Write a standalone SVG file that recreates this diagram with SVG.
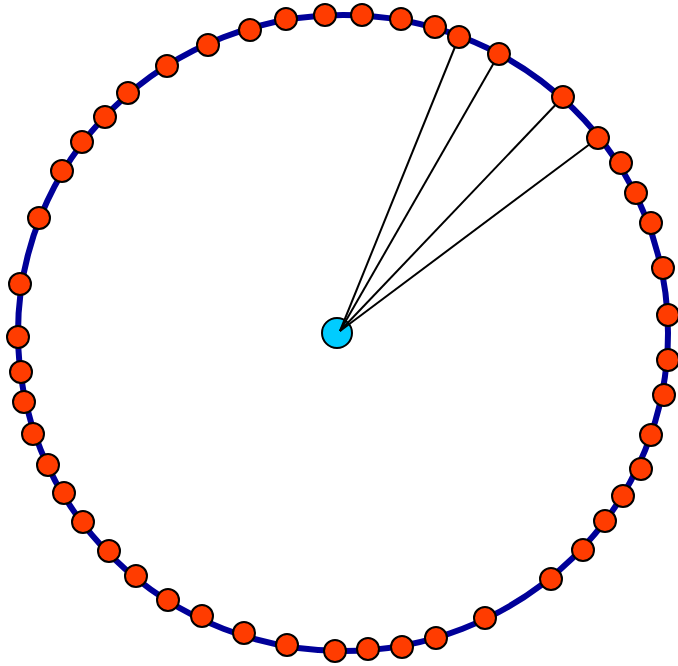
<svg xmlns="http://www.w3.org/2000/svg" width="678" height="666" viewBox="0 0 678 666">
<style>
.ring{fill:none;stroke:#000099;stroke-width:6}
.edge{stroke:#000;stroke-width:2;fill:none}
.n{fill:#ff3c00;stroke:#000;stroke-width:2}
.c{fill:#00ccff;stroke:#000;stroke-width:2}
</style>
<rect width="678" height="666" fill="#fff"/>
<ellipse class="ring" cx="343" cy="333" rx="325" ry="318"/>
<g id="hub"><circle class="c" cx="337" cy="333" r="15"/></g>
<g id="connectors">
<line class="edge" x1="340" y1="331" x2="459" y2="37"/>
<line class="edge" x1="340" y1="331" x2="499" y2="54"/>
<line class="edge" x1="340" y1="331" x2="563" y2="97"/>
<line class="edge" x1="340" y1="331" x2="598" y2="138"/>
</g>
<g id="n1"><circle class="n" cx="325" cy="15" r="11"/></g>
<g id="n2"><circle class="n" cx="362" cy="15" r="11"/></g>
<g id="n3"><circle class="n" cx="401" cy="19" r="11"/></g>
<g id="n4"><circle class="n" cx="435" cy="27" r="11"/></g>
<g id="n5"><circle class="n" cx="459" cy="37" r="11"/></g>
<g id="n6"><circle class="n" cx="499" cy="54" r="11"/></g>
<g id="n7"><circle class="n" cx="563" cy="97" r="11"/></g>
<g id="n8"><circle class="n" cx="598" cy="138" r="11"/></g>
<g id="n9"><circle class="n" cx="621" cy="163" r="11"/></g>
<g id="n10"><circle class="n" cx="636" cy="193" r="11"/></g>
<g id="n11"><circle class="n" cx="651" cy="223" r="11"/></g>
<g id="n12"><circle class="n" cx="663" cy="268" r="11"/></g>
<g id="n13"><circle class="n" cx="668" cy="315" r="11"/></g>
<g id="n14"><circle class="n" cx="668" cy="360" r="11"/></g>
<g id="n15"><circle class="n" cx="664" cy="395" r="11"/></g>
<g id="n16"><circle class="n" cx="651" cy="435" r="11"/></g>
<g id="n17"><circle class="n" cx="641" cy="469" r="11"/></g>
<g id="n18"><circle class="n" cx="623" cy="496" r="11"/></g>
<g id="n19"><circle class="n" cx="605" cy="521" r="11"/></g>
<g id="n20"><circle class="n" cx="583" cy="550" r="11"/></g>
<g id="n21"><circle class="n" cx="551" cy="579" r="11"/></g>
<g id="n22"><circle class="n" cx="485" cy="618" r="11"/></g>
<g id="n23"><circle class="n" cx="436" cy="638" r="11"/></g>
<g id="n24"><circle class="n" cx="402" cy="647" r="11"/></g>
<g id="n25"><circle class="n" cx="368" cy="649" r="11"/></g>
<g id="n26"><circle class="n" cx="335" cy="651" r="11"/></g>
<g id="n27"><circle class="n" cx="287" cy="645" r="11"/></g>
<g id="n28"><circle class="n" cx="244" cy="633" r="11"/></g>
<g id="n29"><circle class="n" cx="202" cy="616" r="11"/></g>
<g id="n30"><circle class="n" cx="168" cy="600" r="11"/></g>
<g id="n31"><circle class="n" cx="136" cy="576" r="11"/></g>
<g id="n32"><circle class="n" cx="109" cy="551" r="11"/></g>
<g id="n33"><circle class="n" cx="83" cy="522" r="11"/></g>
<g id="n34"><circle class="n" cx="64" cy="493" r="11"/></g>
<g id="n35"><circle class="n" cx="48" cy="465" r="11"/></g>
<g id="n36"><circle class="n" cx="33" cy="434" r="11"/></g>
<g id="n37"><circle class="n" cx="24" cy="402" r="11"/></g>
<g id="n38"><circle class="n" cx="21" cy="372" r="11"/></g>
<g id="n39"><circle class="n" cx="18" cy="337" r="11"/></g>
<g id="n40"><circle class="n" cx="20" cy="284" r="11"/></g>
<g id="n41"><circle class="n" cx="39" cy="218" r="11"/></g>
<g id="n42"><circle class="n" cx="62" cy="171" r="11"/></g>
<g id="n43"><circle class="n" cx="82" cy="142" r="11"/></g>
<g id="n44"><circle class="n" cx="105" cy="117" r="11"/></g>
<g id="n45"><circle class="n" cx="128" cy="93" r="11"/></g>
<g id="n46"><circle class="n" cx="167" cy="66" r="11"/></g>
<g id="n47"><circle class="n" cx="208" cy="45" r="11"/></g>
<g id="n48"><circle class="n" cx="250" cy="30" r="11"/></g>
<g id="n49"><circle class="n" cx="286" cy="19" r="11"/></g>
</svg>
